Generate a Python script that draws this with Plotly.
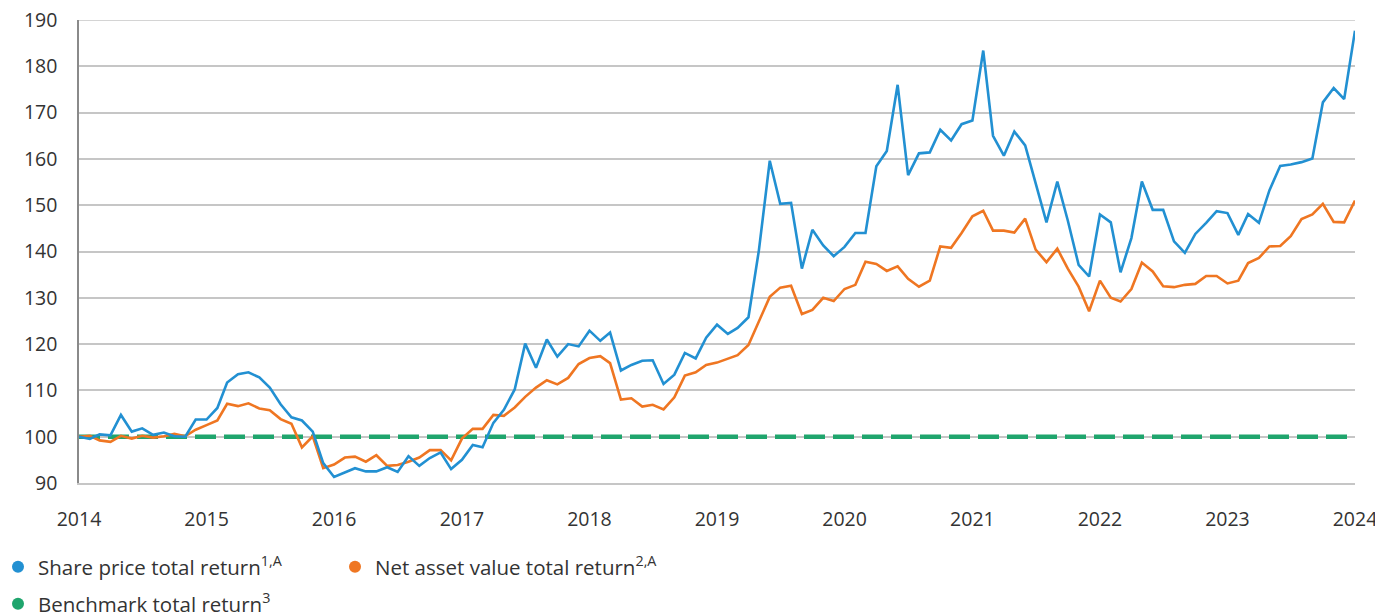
import pandas as pd
import plotly.graph_objects as go

# Monthly observations, Jan 2014 .. Jan 2024
months = pd.date_range("2014-01-01", "2024-01-01", freq="MS")

share_price = [
    100.0, 99.5, 100.5, 100.3, 104.7, 101.1, 101.8, 100.4, 100.9, 100.1, 100.0, 103.7,
    103.7, 106.2, 111.7, 113.5, 113.9, 112.8, 110.6, 107.0, 104.2, 103.5, 101.1, 94.3,
    91.3, 92.3, 93.2, 92.5, 92.5, 93.4, 92.4, 95.8, 93.7, 95.4, 96.6, 93.0,
    95.0, 98.2, 97.7, 103.0, 105.8, 110.2, 120.1, 114.9, 121.0, 117.3, 120.0, 119.5,
    122.9, 120.7, 122.5, 114.3, 115.5, 116.4, 116.5, 111.4, 113.4, 118.1, 116.9, 121.4,
    124.2, 122.2, 123.5, 125.8, 140.3, 159.6, 150.3, 150.5, 136.3, 144.7, 141.3, 139.0,
    141.0, 144.0, 144.0, 158.4, 161.7, 176.0, 156.5, 161.2, 161.4, 166.3, 164.0, 167.5,
    168.3, 183.4, 165.0, 160.7, 165.9, 162.9, 154.6, 146.3, 155.1, 146.7, 137.1, 134.6,
    148.0, 146.3, 135.5, 142.9, 155.1, 149.0, 149.0, 142.2, 139.7, 143.8, 146.2, 148.7,
    148.3, 143.6, 148.1, 146.2, 153.2, 158.5, 158.8, 159.3, 160.1, 172.2, 175.3, 172.9,
    187.7,
]

nav = [
    100.0, 100.2, 99.2, 98.9, 100.2, 99.6, 100.2, 99.8, 100.1, 100.6, 100.1, 101.5,
    102.5, 103.5, 107.1, 106.6, 107.2, 106.1, 105.7, 103.8, 102.8, 97.7, 100.1, 93.2,
    94.0, 95.5, 95.7, 94.6, 96.0, 93.7, 93.9, 94.6, 95.5, 97.1, 97.1, 94.9,
    99.6, 101.7, 101.7, 104.7, 104.5, 106.3, 108.6, 110.6, 112.2, 111.3, 112.7, 115.7,
    117.0, 117.4, 115.9, 108.0, 108.3, 106.5, 106.9, 105.9, 108.5, 113.2, 113.9, 115.5,
    116.0, 116.9, 117.6, 119.8, 124.8, 130.2, 132.2, 132.6, 126.5, 127.4, 130.0, 129.3,
    131.9, 132.8, 137.8, 137.3, 135.8, 136.8, 134.1, 132.4, 133.7, 141.1, 140.8, 144.0,
    147.6, 148.8, 144.5, 144.5, 144.1, 147.1, 140.4, 137.7, 140.6, 136.3, 132.4, 127.1,
    133.7, 130.0, 129.2, 131.9, 137.6, 135.7, 132.5, 132.3, 132.8, 133.0, 134.7, 134.7,
    133.1, 133.7, 137.5, 138.6, 141.1, 141.2, 143.3, 147.0, 148.0, 150.3, 146.4, 146.3,
    151.0,
]

benchmark_dates = ["2014-01-01", "2024-01-01"]
benchmark = [100, 100]

year_ticks = [f"{y}-01-01" for y in range(2014, 2025)]
year_labels = [str(y) for y in range(2014, 2025)]
y_ticks = [90, 100, 110, 120, 130, 140, 150, 160, 170, 180, 190]

names = [
    "Share price total return<sup>1,A</sup>",
    "Net asset value total return<sup>2,A</sup>",
    "Benchmark total return<sup>3</sup>",
]
colors = ["#2290d2", "#ef7622", "#1fa56d"]

FONT = "Open Sans"
TXT = "#333333"
GRID = "#c6c6c6"

W, H = 1375, 614
L, R, T, B = 79, 20, 20, 131
PW = W - L - R

fig = go.Figure()

fig.add_trace(go.Scatter(
    x=benchmark_dates, y=benchmark, mode="lines",
    line=dict(color=colors[2], width=4.5, dash="21px,8px"),
    showlegend=False, hoverinfo="skip",
))
fig.add_trace(go.Scatter(
    x=months, y=nav, mode="lines",
    line=dict(color=colors[1], width=2.6), showlegend=False,
))
fig.add_trace(go.Scatter(
    x=months, y=share_price, mode="lines",
    line=dict(color=colors[0], width=2.6), showlegend=False,
))

for i, (nm, col) in enumerate(zip(names, colors)):
    fig.add_trace(go.Scatter(
        x=[None], y=[None], mode="markers", name=nm,
        marker=dict(color=col, size=13, symbol="circle"),
        legend="legend" if i < 2 else "legend2",
    ))

fig.add_shape(type="line", xref="x", yref="y",
              x0="2014-01-01", x1="2024-01-01", y0=100, y1=100,
              line=dict(color="#333333", width=1), layer="below")
fig.add_shape(type="line", xref="paper", yref="y",
              x0=0, x1=1, y0=190, y1=190,
              line=dict(color=GRID, width=1.5), layer="below")

legend_common = dict(
    orientation="h", xref="paper", yref="container",
    xanchor="left", yanchor="middle",
    font=dict(family=FONT, size=20.5, color=TXT),
    bgcolor="rgba(0,0,0,0)", itemsizing="constant",
    entrywidth=292, entrywidthmode="pixels",
    tracegroupgap=0, itemwidth=30,
)
LEG_X = (-2 - L) / PW

fig.update_layout(
    width=W, height=H,
    margin=dict(l=L, r=R, t=T, b=B, autoexpand=False),
    paper_bgcolor="white", plot_bgcolor="white",
    font=dict(family=FONT, size=19, color=TXT),
    legend=dict(x=LEG_X, y=1 - 567 / H, **legend_common),
    legend2=dict(x=LEG_X, y=1 - 604 / H, **legend_common),
    showlegend=True,
    xaxis=dict(
        type="date",
        range=["2014-01-01", "2024-01-01"],
        tickvals=year_ticks, ticktext=year_labels,
        showgrid=False, zeroline=False,
        showline=True, linecolor=GRID, linewidth=1.5,
        ticks="", ticklabelstandoff=18, ticklabeloverflow="allow",
        tickfont=dict(family=FONT, size=19.5, color=TXT),
    ),
    yaxis=dict(
        range=[90, 190], tickvals=y_ticks,
        showgrid=True, gridcolor=GRID, gridwidth=1.5,
        zeroline=False,
        showline=True, linecolor="#8a8a8a", linewidth=1.5,
        ticks="", ticklabelstandoff=16, ticklabeloverflow="allow",
        tickfont=dict(family=FONT, size=19.5, color=TXT),
    ),
)

fig.write_html(
    "out.html",
    config={"displayModeBar": False},
    post_script="document.body.style.margin='0';document.body.style.overflow='hidden';",
)
